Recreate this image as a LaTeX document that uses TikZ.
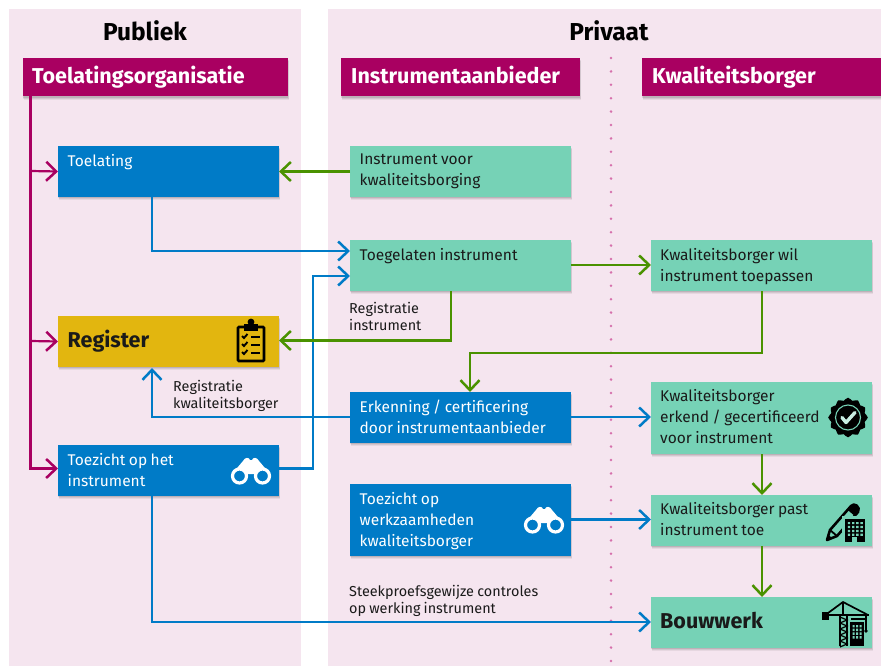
\documentclass[tikz,border=0pt]{standalone}
\usepackage{fontspec}
\setmainfont{Fira Sans}[WordSpace=0.85]
\usetikzlibrary{arrows.meta,shadows,calc}
\definecolor{panel}{HTML}{F5E5EF}
\definecolor{ruby}{HTML}{A90061}
\definecolor{rblue}{HTML}{007BC7}
\definecolor{mint}{HTML}{76D2B6}
\definecolor{rgold}{HTML}{E2B60F}
\definecolor{rgreen}{HTML}{4A9200}
\definecolor{rdots}{HTML}{D670AC}
\definecolor{txt}{HTML}{1A1A1A}
\newcommand{\hdrfont}{\fontsize{21.5}{24}\selectfont\bfseries}
\tikzset{
  x=1pt,y=-1pt,
  softshadow/.style={preaction={fill=black,fill opacity=.06,draw=none,transform canvas={xshift=1.2pt,yshift=-3.2pt}},
                     preaction={fill=black,fill opacity=.08,draw=none,transform canvas={xshift=.8pt,yshift=-2.2pt}},
                     preaction={fill=black,fill opacity=.10,draw=none,transform canvas={xshift=.4pt,yshift=-1.2pt}}},
  box/.style={rectangle,softshadow,minimum width=221pt,inner sep=0pt,outer sep=0pt,anchor=north west},
  hdr/.style={box,fill=ruby,text=white,minimum height=38.5pt},
  hdrlbl/.style={anchor=base west,inner sep=0pt,text=white,font=\hdrfont},
  bigdark/.style={anchor=base west,inner sep=0pt,font=\hdrfont,text=txt},
  title/.style={anchor=base,inner sep=0pt,font=\fontsize{24.5}{28}\selectfont\bfseries,text=black},
  bluebox/.style={box,fill=rblue},
  mintbox/.style={box,fill=mint},
  goldbox/.style={box,fill=rgold},
  lbl/.style={anchor=north west,inner sep=0pt,align=left,font=\fontsize{15.5}{21}\selectfont},
  whitelbl/.style={lbl,text=white},
  darklbl/.style={lbl,text=txt},
  small/.style={anchor=north west,inner sep=0pt,align=left,text=txt,font=\fontsize{14.4}{17.5}\selectfont},
  arr/.style={line width=2.2pt,-{Straight Barb[length=10pt,width=19pt,line width=2.5pt]}},
  rb/.style={arr,draw=ruby},
  gr/.style={arr,draw=rgreen},
  bl/.style={arr,draw=rblue},
}
\newcommand{\binoc}[3]{% x,y centre, colour
  \begin{scope}[shift={(#1,#2)}]
    \fill[#3] (-8,-10) .. controls (-6,-14) and (-2,-14) .. (-1,-11) -- (1,-11) .. controls (2,-14) and (6,-14) .. (8,-10) -- (19,3) -- (-19,3) -- cycle;
    \draw[#3,line width=3.2pt,fill=rblue] (-11.5,5) circle (7);
    \draw[#3,line width=3.2pt,fill=rblue] (11.5,5) circle (7);
  \end{scope}}
\begin{document}
\begin{tikzpicture}
\useasboundingbox (0,0) rectangle (881,666);
\fill[white] (0,0) rectangle (881,666);
\fill[panel] (9,9) rectangle (301,666);
\fill[panel] (328,9) rectangle (881,666);
\draw[rdots,line width=2.8pt,line cap=round,dash pattern=on 0pt off 13.4pt] (611,58) -- (611,666);

\node[title] (publiek) at (145,40.5) {Publiek};
\node[title] (privaat) at (609,40.5) {Privaat};

\node[hdr,minimum width=265.5pt] (hA) at (22.5,58) {};
\node[hdr,minimum width=239pt] (hB) at (341,58) {};
\node[hdr,minimum width=239pt] (hC) at (642,58) {};
\node[hdrlbl] (tA) at (32,83.5) {Toelatingsorganisatie};
\node[hdrlbl] (tB) at (351,83.5) {Instrumentaanbieder};
\node[hdrlbl] (tC) at (652,83.5) {Kwaliteitsborger};

\node[bluebox,minimum height=51pt] (toel) at (58,146) {};
\node[goldbox,minimum height=51pt] (reg) at (58,316) {};
\node[bluebox,minimum height=51pt] (toez) at (58,445) {};
\node[mintbox,minimum height=51pt] (inst) at (350,146) {};
\node[mintbox,minimum height=51pt] (toeg) at (350,240) {};
\node[bluebox,minimum height=51pt] (erk) at (350,392) {};
\node[bluebox,minimum height=72pt] (twerk) at (350,484) {};
\node[mintbox,minimum height=51pt] (wil) at (651,240) {};
\node[mintbox,minimum height=72pt] (kerk) at (651,382) {};
\node[mintbox,minimum height=51pt] (past) at (651,495) {};
\node[mintbox,minimum height=51pt] (bouw) at (651,597) {};

\node[whitelbl] at (67.5,154) {Toelating};
\node[bigdark] at (67.5,347) {Register};
\node[whitelbl] at (67.5,453) {Toezicht op het\\instrument};
\node[darklbl] at (359.5,154) {Instrument voor\\kwaliteitsborging};
\node[darklbl] at (359.5,248) {Toegelaten instrument};
\node[whitelbl] at (359.5,400) {Erkenning / certificering\\door instrumentaanbieder};
\node[whitelbl] at (359.5,492) {Toezicht op\\werkzaamheden\\kwaliteitsborger};
\node[darklbl] at (660,248) {Kwaliteitsborger wil\\instrument toepassen};
\node[darklbl] at (660,389) {Kwaliteitsborger\\erkend / gecertificeerd\\voor instrument};
\node[darklbl] at (660,502) {Kwaliteitsborger past\\instrument toe};
\node[bigdark] at (660,628) {Bouwwerk};

\node[small] at (349,302) {Registratie\\instrument};
\node[small] at (173,380) {Registratie\\kwaliteitsborger};
\node[small] at (349,585) {Steekproefsgewijze controles\\op werking instrument};

% connectors
\coordinate (ra) at (30.5,96.5);
\draw[rb] (ra) -- (30.5,468.5) -- (toez.west |- 0,468.5);
\draw[rb] (30.5,171) -- (toel.west);
\draw[rb] (30.5,341) -- (reg.west);
\draw[gr] (inst.west) -- (toel.east);
\draw[bl] (152,197) -- (152,251) -- (toeg.west |- 0,251);
\draw[bl] (toez.east |- 0,468.5) -- (313,468.5) -- (313,276) -- (toeg.west |- 0,276);
\draw[gr] (451,291) -- (451,340.5) -- (reg.east |- 0,340.5);
\draw[gr] (toeg.east |- 0,265) -- (wil.west |- 0,265);
\draw[gr] (762,291) -- (762,353) -- (470,353) -- (470,392);
\draw[bl] (erk.west |- 0,417) -- (152,417) -- (152,368);
\draw[bl] (erk.east |- 0,417) -- (kerk.west |- 0,417);
\draw[bl] (twerk.east |- 0,519.5) -- (past.west |- 0,519.5);
\draw[bl] (152,496) -- (152,622) -- (bouw.west |- 0,622);
\draw[gr] (kerk.south -| 762,0) -- (past.north -| 762,0);
\draw[gr] (past.south -| 762,0) -- (bouw.north -| 762,0);

% icons
\binoc{251}{471}{white}
\binoc{544}{520}{white}
% clipboard
\begin{scope}[shift={(251,342)}]
  \draw[black,line width=2.8pt,rounded corners=1pt] (-7,-15) -- (-13,-15) -- (-13,19) -- (13,19) -- (13,-15) -- (7,-15);
  \fill[black] (-7,-18) rectangle (7,-11);
  \fill[black] (0,-20) circle (3.4);
  \draw[black,line width=1.9pt] (-9,-6) -- (-7,-4) -- (-3.5,-8) (-9,2) -- (-7,4) -- (-3.5,0) (-9,10) -- (-7,12) -- (-3.5,8);
  \draw[black,line width=2pt] (0,-5.5) -- (9,-5.5) (0,2.5) -- (9,2.5) (0,10.5) -- (9,10.5);
\end{scope}
% seal
\begin{scope}[shift={(848,417.5)}]
  \fill[black] plot[smooth cycle,samples=48,domain=0:352.5] (\x:{18.5+1.3*cos(12*\x)});
  \draw[mint,line width=1.1pt] (0,0) circle (12.5);
  \draw[mint!40!white,line width=3.4pt,line cap=round,line join=round] (-6,0) -- (-2,5) -- (7,-5);
\end{scope}
% pencil + building
\begin{scope}[shift={(849,522)}]
  \draw[black,line width=2.6pt,line join=round,fill=mint] (-22,18) -- (-19,8) -- (2,-16) .. controls (5,-20) and (12,-15) .. (9,-10) -- (-12,14) -- cycle;
  \draw[black,line width=1.8pt] (-19,8) -- (-12,14) (-1,-13) -- (6,-7);
  \fill[black] (2,-16) .. controls (5,-20) and (12,-15) .. (9,-10) -- (6,-7) -- (-1,-13) -- cycle;
  \fill[black] (-22,18) -- (-20.5,13) -- (-17,16) -- cycle;
  \fill[mint] (-7,-6) rectangle (19,20);
  \fill[black] (-4,-3) rectangle (16,20);
  \fill[mint] (3,15) rectangle (8,20);
  \fill[mint] foreach \i in {0,1,2,3} {foreach \j in {0,1,2,3} {(-1.2+\i*4.2,0+\j*3.9) rectangle ++(2.4,2.2)}};
\end{scope}
% crane
\begin{scope}[shift={(846,622)}]
  \draw[black,line width=2pt] (-6,-8) -- (-6,24) (1,-8) -- (1,24);
  \draw[black,line width=1.2pt] foreach \k in {0,1,2,3,4} {(-6,-5+\k*6) -- (1,-2+\k*6) -- (-6,1+\k*6)};
  \draw[black,line width=1.7pt] (-22,-6) -- (-3,-20) -- (22,-7) (-3,-20) -- (-3,-8);
  \draw[black,line width=2.6pt] (-24,-7) -- (23,-7);
  \draw[black,line width=1.1pt] (5,-3) -- (20,-3);
  \fill[black] (-24,-10) rectangle (-17,-2);
  \draw[black,line width=1.4pt] (20,-7) -- (20,8);
  \fill[black] (20,9) circle (1.9);
  \fill[black] (4,0) rectangle (18,24);
  \fill[mint] foreach \i in {0,1,2} {foreach \j in {0,1,2,3} {(6.5+\i*3.5,3+\j*3.7) rectangle ++(2.2,2.4)}};
\end{scope}
\end{tikzpicture}
\end{document}
